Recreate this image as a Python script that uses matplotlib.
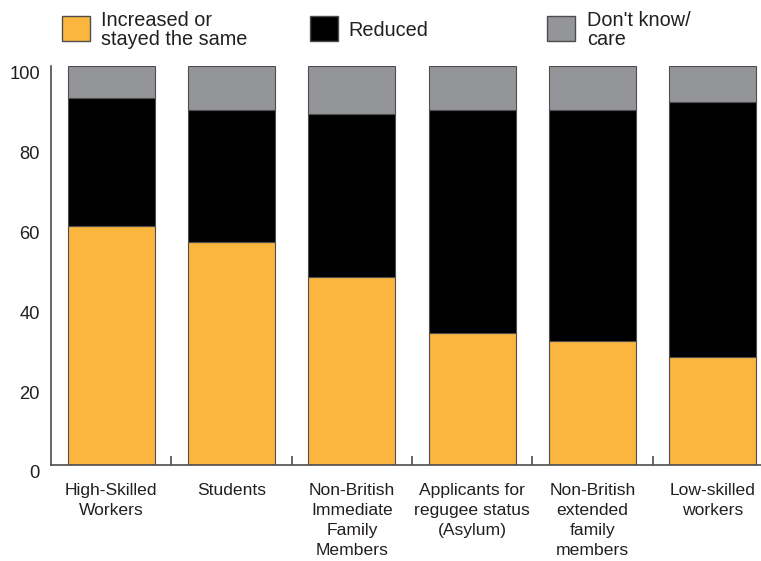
import matplotlib
matplotlib.use("Agg")
import matplotlib.pyplot as plt
import matplotlib.transforms as mtransforms
from matplotlib.patches import Rectangle
import numpy as np

plt.rcParams["font.family"] = ["Liberation Sans", "DejaVu Sans"]

categories = [
    "High-Skilled\nWorkers",
    "Students",
    "Non-British\nImmediate\nFamily\nMembers",
    "Applicants for\nregugee status\n(Asylum)",
    "Non-British\nextended\nfamily\nmembers",
    "Low-skilled\nworkers",
]
increased = [60, 56, 47, 33, 31, 27]
reduced = [32, 33, 41, 56, 58, 64]
dont_know = [8, 11, 12, 11, 11, 9]
series_labels = ["Increased or\nstayed the same", "Reduced", "Don't know/\ncare"]
y_ticks = [0, 20, 40, 60, 80, 100]

colors = ["#FBB63F", "#000000", "#939598"]
text_color = "#231F20"
edge = "#4D4D4F"

W, H = 761, 561
fig = plt.figure(figsize=(W / 100, H / 100), dpi=100)
ax = fig.add_axes([51 / W, (H - 465) / H, (761 - 51) / W, (465 - 66) / H])

x = np.arange(len(categories))
bottom = np.zeros(len(categories))
for vals, c in zip([increased, reduced, dont_know], colors):
    ax.bar(x, vals, width=0.723, bottom=bottom, color=c, edgecolor=edge,
           linewidth=0.8, zorder=2)
    bottom += np.array(vals)

ax.set_xlim(-0.5, 5.4)
ax.set_ylim(0, 100)

for s in ["top", "right"]:
    ax.spines[s].set_visible(False)
for s in ["left", "bottom"]:
    ax.spines[s].set_color(edge)
    ax.spines[s].set_linewidth(1.2)

ax.set_yticks(y_ticks)
ax.set_yticklabels([str(v) for v in y_ticks], fontsize=13.2, color=text_color)
ax.tick_params(axis="y", length=0, pad=8)
offset = mtransforms.ScaledTranslation(0, -5 / 72, fig.dpi_scale_trans)
for lab in ax.get_yticklabels():
    lab.set_transform(lab.get_transform() + offset)

ax.set_xticks(x)
ax.set_xticklabels(categories, fontsize=12.6, color=text_color, linespacing=1.41)
ax.tick_params(axis="x", which="major", length=0, pad=13)
ax.set_xticks(x[:-1] + 0.5, minor=True)
ax.tick_params(axis="x", which="minor", direction="in", length=6.5,
               width=1.2, color=edge)

# legend
legend_pos = [(62, 101), (310, 348), (547, 587)]
for (px, tx), lab, c in zip(legend_pos, series_labels, colors):
    fig.add_artist(Rectangle((px / W, (H - 41) / H), 28 / W, 25 / H,
                             transform=fig.transFigure, facecolor=c,
                             edgecolor=edge, linewidth=1))
    fig.text(tx / W, (H - 30) / H, lab, fontsize=14.3, color=text_color,
             va="center", ha="left", linespacing=1.02)

fig.savefig("out.png", dpi=100)
